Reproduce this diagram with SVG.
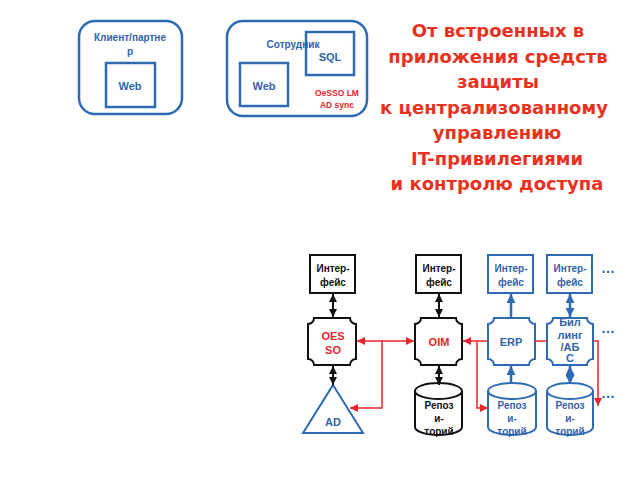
<svg xmlns="http://www.w3.org/2000/svg" width="640" height="480" viewBox="0 0 640 480">
<defs>
<style>
text{font-family:"Liberation Sans",Arial,sans-serif;font-weight:bold;text-anchor:middle;dominant-baseline:central}
.bl{fill:#3262aa}
.rd{fill:#e8262b}
.bk{fill:#111}
.bbox{fill:#fff;stroke:#2f6bb3;stroke-width:2.5}
.bsh{fill:#fff;stroke:#2f6bb3;stroke-width:2}
.ksh{fill:#fff;stroke:#111;stroke-width:2}
.title{fill:#e8321e;font-size:18px;font-family:"DejaVu Sans",Verdana,sans-serif;dominant-baseline:alphabetic}
.t10{font-size:10px}
.t11{font-size:11px}
.kl{stroke:#111;stroke-width:2;fill:none}
.bl2{stroke:#2f6bb3;stroke-width:2.5;fill:none}
.rl{stroke:#e8262b;stroke-width:1.5;fill:none}
</style>
<marker id="ak" viewBox="0 0 10 10" refX="10" refY="5" markerWidth="8" markerHeight="8" markerUnits="userSpaceOnUse" orient="auto-start-reverse"><path d="M0,0 L10,5 L0,10 Z" fill="#111"/></marker>
<marker id="ab" viewBox="0 0 10 10" refX="10" refY="5" markerWidth="9" markerHeight="9" markerUnits="userSpaceOnUse" orient="auto-start-reverse"><path d="M0,0 L10,5 L0,10 Z" fill="#2f6bb3"/></marker>
<marker id="ar" viewBox="0 0 10 10" refX="10" refY="5" markerWidth="9" markerHeight="8" markerUnits="userSpaceOnUse" orient="auto-start-reverse"><path d="M0,0 L10,5 L0,10 Z" fill="#e8262b"/></marker>
</defs>
<rect width="640" height="480" fill="#fff"/>

<g id="client">
<rect class="bbox" x="79" y="21" width="103" height="93" rx="16"/>
<text class="bl t10" x="130" y="37">Клиент/партне</text>
<text class="bl t10" x="130" y="51">р</text>
<rect class="bbox" x="106" y="63" width="49" height="44"/>
<text class="bl t11" x="130" y="86">Web</text>
</g>

<g id="employee">
<rect class="bbox" x="227" y="21" width="140" height="95" rx="16"/>
<rect class="bbox" x="306" y="32" width="48" height="43"/>
<text class="bl t10" x="293" y="44">Сотрудник</text>
<text class="bl t11" x="330" y="57">SQL</text>
<rect class="bbox" x="240" y="63" width="48" height="43"/>
<text class="bl t11" x="264" y="86">Web</text>
<text class="rd" style="font-size:8.5px" x="337" y="93">OeSSO LM</text>
<text class="rd" style="font-size:8.5px" x="337" y="105">AD sync</text>
</g>

<g id="title">
<text class="title" x="498" y="37">От встроенных в</text>
<text class="title" x="498" y="62.5">приложения средств</text>
<text class="title" x="498" y="88">защиты</text>
<text class="title" x="494" y="113.5">к централизованному</text>
<text class="title" x="497" y="139">управлению</text>
<text class="title" x="497" y="164.5">IT-привилегиями</text>
<text class="title" x="497" y="190">и контролю доступа</text>
</g>

<g id="if1">
<rect class="ksh" x="310" y="255" width="45" height="38"/>
<text class="bk t10" x="333" y="268">Интер-</text>
<text class="bk t10" x="333" y="282">фейс</text>
</g>
<g id="oesso">
<path class="ksh" d="M314,318 H350 A6,6 0 0 0 356,324 V359 A6,6 0 0 0 350,365 H314 A6,6 0 0 0 308,359 V324 A6,6 0 0 0 314,318 Z"/>
<text class="rd t11" x="333" y="336">OES</text>
<text class="rd t11" x="333" y="350">SO</text>
</g>
<g id="ad">
<path class="bsh" d="M333,385 L363,433 L303,433 Z"/>
<text class="bl t11" x="333" y="422">AD</text>
</g>

<g id="if2">
<rect class="ksh" x="416" y="255" width="45" height="38"/>
<text class="bk t10" x="439" y="268">Интер-</text>
<text class="bk t10" x="439" y="282">фейс</text>
</g>
<g id="oim">
<path class="ksh" d="M421,318 H456 A6,6 0 0 0 462,324 V359 A6,6 0 0 0 456,365 H421 A6,6 0 0 0 415,359 V324 A6,6 0 0 0 421,318 Z"/>
<text class="rd t11" x="439" y="342">OIM</text>
</g>
<g id="repo1">
<path class="ksh" d="M415,391 A23.5,8 0 0 1 462,391 V427 A23.5,8 0 0 1 415,427 Z"/>
<path class="ksh" d="M415,391 A23.5,8 0 0 0 462,391"/>
<text class="bk t10" x="439" y="405">Репоз</text>
<text class="bk t10" x="439" y="418">и-</text>
<text class="bk t10" x="439" y="431">торий</text>
</g>

<g id="if3">
<rect class="bsh" x="488" y="255" width="45" height="38"/>
<text class="bl t10" x="511" y="268">Интер-</text>
<text class="bl t10" x="511" y="282">фейс</text>
</g>
<g id="erp">
<path class="bsh" d="M494,318 H529 A6,6 0 0 0 535,324 V359 A6,6 0 0 0 529,365 H494 A6,6 0 0 0 488,359 V324 A6,6 0 0 0 494,318 Z"/>
<text class="bl t11" x="511" y="342">ERP</text>
</g>
<g id="repo2">
<path class="bsh" d="M488,391 A24,8 0 0 1 536,391 V427 A24,8 0 0 1 488,427 Z"/>
<path class="bsh" d="M488,391 A24,8 0 0 0 536,391"/>
<text class="bl t10" x="512" y="405">Репоз</text>
<text class="bl t10" x="512" y="418">и-</text>
<text class="bl t10" x="512" y="431">торий</text>
</g>

<g id="if4">
<rect class="bsh" x="547" y="255" width="45" height="38"/>
<text class="bl t10" x="570" y="268">Интер-</text>
<text class="bl t10" x="570" y="282">фейс</text>
</g>
<g id="billing">
<path class="bsh" d="M553,318 H587 A6,6 0 0 0 593,324 V359 A6,6 0 0 0 587,365 H553 A6,6 0 0 0 547,359 V324 A6,6 0 0 0 553,318 Z"/>
<text class="bl t11" x="570" y="322">Бил</text>
<text class="bl t11" x="570" y="335">линг</text>
<text class="bl t11" x="570" y="347">/АБ</text>
<text class="bl t11" x="570" y="358">С</text>
</g>
<g id="repo3">
<path class="bsh" d="M547,391 A23,8 0 0 1 593,391 V427 A23,8 0 0 1 547,427 Z"/>
<path class="bsh" d="M547,391 A23,8 0 0 0 593,391"/>
<text class="bl t10" x="570" y="405">Репоз</text>
<text class="bl t10" x="570" y="418">и-</text>
<text class="bl t10" x="570" y="431">торий</text>
</g>

<g id="dots" class="bl">
<text x="608" y="268" style="font-size:14px">…</text>
<text x="608" y="328" style="font-size:14px">…</text>
<text x="608" y="393" style="font-size:14px">…</text>
</g>

<g id="connectors">
<path class="kl" d="M333,294 V317" marker-start="url(#ak)" marker-end="url(#ak)"/>
<path class="kl" d="M333,366 V385" marker-start="url(#ak)" marker-end="url(#ak)"/>
<path class="kl" d="M439,294 V317" marker-start="url(#ak)" marker-end="url(#ak)"/>
<path class="kl" d="M439,366 V385" marker-start="url(#ak)" marker-end="url(#ak)"/>
<path class="bl2" d="M511,317 V294" marker-end="url(#ab)"/>
<path class="bl2" d="M511,384 V366" marker-end="url(#ab)"/>
<path class="bl2" d="M570,294 V317" stroke-width="2" marker-start="url(#ab)" marker-end="url(#ab)"/>
<path class="bl2" d="M570,366 V384" stroke-width="2" marker-start="url(#ab)" marker-end="url(#ab)"/>
<path class="rl" d="M357,341 H414" marker-start="url(#ar)" marker-end="url(#ar)"/>
<path class="rl" d="M382,341 V408 H350" marker-end="url(#ar)"/>
<path class="rl" d="M463,341 H488" marker-start="url(#ar)"/>
<path class="rl" d="M477,341 V408 H488" marker-end="url(#ar)"/>
<path class="rl" d="M535,341 H547"/>
<path class="rl" d="M593,341 H598 V406" marker-end="url(#ar)"/>
</g>
</svg>
